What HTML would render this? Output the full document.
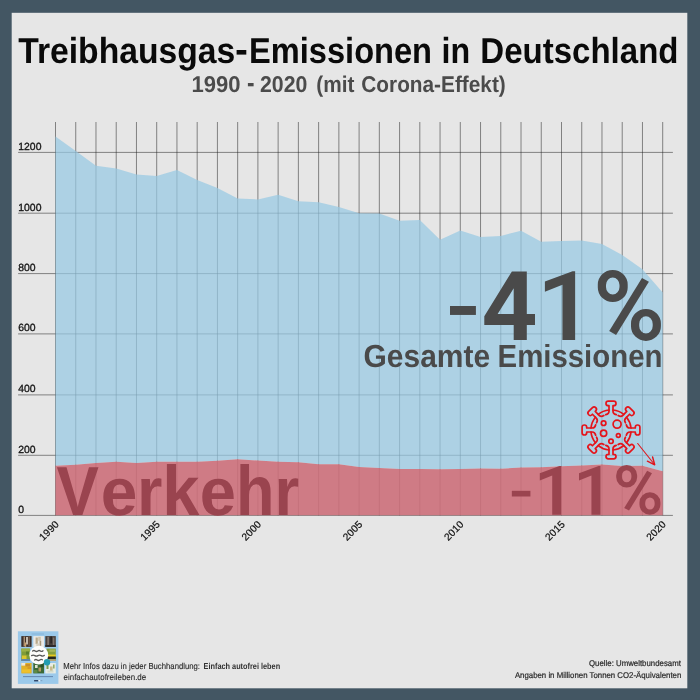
<!DOCTYPE html>
<html lang="de"><head><meta charset="utf-8"><title>Treibhausgas-Emissionen in Deutschland</title>
<style>html,body{margin:0;padding:0;background:#435663;}body{width:700px;height:700px;overflow:hidden;}svg{display:block;will-change:transform;}text{font-family:"Liberation Sans",sans-serif;text-rendering:geometricPrecision;}</style></head><body>
<svg width="700" height="700" viewBox="0 0 700 700">
<rect x="0" y="0" width="700" height="700" fill="#435663"/>
<rect x="11.7" y="12.8" width="675.6" height="675.5" fill="#e6e6e6"/>
<g stroke="#1c1c1c" stroke-width="0.5" fill="none">
<line x1="55.50" y1="122" x2="55.50" y2="515.30"/>
<line x1="75.74" y1="122" x2="75.74" y2="515.30"/>
<line x1="95.98" y1="122" x2="95.98" y2="515.30"/>
<line x1="116.22" y1="122" x2="116.22" y2="515.30"/>
<line x1="136.46" y1="122" x2="136.46" y2="515.30"/>
<line x1="156.70" y1="122" x2="156.70" y2="515.30"/>
<line x1="176.94" y1="122" x2="176.94" y2="515.30"/>
<line x1="197.18" y1="122" x2="197.18" y2="515.30"/>
<line x1="217.42" y1="122" x2="217.42" y2="515.30"/>
<line x1="237.66" y1="122" x2="237.66" y2="515.30"/>
<line x1="257.90" y1="122" x2="257.90" y2="515.30"/>
<line x1="278.14" y1="122" x2="278.14" y2="515.30"/>
<line x1="298.38" y1="122" x2="298.38" y2="515.30"/>
<line x1="318.62" y1="122" x2="318.62" y2="515.30"/>
<line x1="338.86" y1="122" x2="338.86" y2="515.30"/>
<line x1="359.10" y1="122" x2="359.10" y2="515.30"/>
<line x1="379.34" y1="122" x2="379.34" y2="515.30"/>
<line x1="399.58" y1="122" x2="399.58" y2="515.30"/>
<line x1="419.82" y1="122" x2="419.82" y2="515.30"/>
<line x1="440.06" y1="122" x2="440.06" y2="515.30"/>
<line x1="460.30" y1="122" x2="460.30" y2="515.30"/>
<line x1="480.54" y1="122" x2="480.54" y2="515.30"/>
<line x1="500.78" y1="122" x2="500.78" y2="515.30"/>
<line x1="521.02" y1="122" x2="521.02" y2="515.30"/>
<line x1="541.26" y1="122" x2="541.26" y2="515.30"/>
<line x1="561.50" y1="122" x2="561.50" y2="515.30"/>
<line x1="581.74" y1="122" x2="581.74" y2="515.30"/>
<line x1="601.98" y1="122" x2="601.98" y2="515.30"/>
<line x1="622.22" y1="122" x2="622.22" y2="515.30"/>
<line x1="642.46" y1="122" x2="642.46" y2="515.30"/>
<line x1="662.70" y1="122" x2="662.70" y2="515.30"/>
<line x1="18.1" y1="515.40" x2="672.9" y2="515.40"/>
<line x1="18.1" y1="455.30" x2="672.9" y2="455.30"/>
<line x1="18.1" y1="394.90" x2="672.9" y2="394.90"/>
<line x1="18.1" y1="333.90" x2="672.9" y2="333.90"/>
<line x1="18.1" y1="273.60" x2="672.9" y2="273.60"/>
<line x1="18.1" y1="213.20" x2="672.9" y2="213.20"/>
<line x1="18.1" y1="152.40" x2="672.9" y2="152.40"/>
</g>
<polygon points="55.50,136.60 75.74,151.00 95.98,165.80 116.22,168.60 136.46,174.60 156.70,176.00 176.94,169.90 197.18,180.10 217.42,188.10 237.66,198.50 257.90,199.40 278.14,194.80 298.38,201.20 318.62,202.30 338.86,207.00 359.10,213.30 379.34,213.50 399.58,220.70 419.82,220.00 440.06,239.70 460.30,230.40 480.54,237.00 500.78,235.90 521.02,230.80 541.26,241.80 561.50,241.10 581.74,240.50 601.98,244.00 622.22,255.00 642.46,269.20 662.70,292.40 662.70,471.13 642.46,465.69 622.22,465.99 601.98,464.48 581.74,465.39 561.50,466.29 541.26,467.20 521.02,467.50 500.78,468.71 480.54,468.41 460.30,469.02 440.06,469.32 419.82,469.02 399.58,469.02 379.34,468.11 359.10,466.90 338.86,464.18 318.62,464.18 298.38,462.36 278.14,461.76 257.90,460.55 237.66,459.34 217.42,460.85 197.18,461.76 176.94,461.76 156.70,461.76 136.46,462.97 116.22,461.76 95.98,462.97 75.74,464.78 55.50,465.69" fill="#97c9e3" fill-opacity="0.72"/>
<polygon points="55.50,465.69 75.74,464.78 95.98,462.97 116.22,461.76 136.46,462.97 156.70,461.76 176.94,461.76 197.18,461.76 217.42,460.85 237.66,459.34 257.90,460.55 278.14,461.76 298.38,462.36 318.62,464.18 338.86,464.18 359.10,466.90 379.34,468.11 399.58,469.02 419.82,469.02 440.06,469.32 460.30,469.02 480.54,468.41 500.78,468.71 521.02,467.50 541.26,467.20 561.50,466.29 581.74,465.39 601.98,464.48 622.22,465.99 642.46,465.69 662.70,471.13 662.70,515.30 55.50,515.30" fill="#cc6f7a" fill-opacity="0.9"/>
<g font-size="10.4" fill="#161616" stroke="#161616" stroke-width="0.32">
<text transform="translate(18.3,512.70) scale(1,1.0)">0</text>
<text transform="translate(18.3,452.60) scale(1,1.0)">200</text>
<text transform="translate(18.3,392.20) scale(1,1.0)">400</text>
<text transform="translate(18.3,331.20) scale(1,1.0)">600</text>
<text transform="translate(18.3,270.90) scale(1,1.0)">800</text>
<text transform="translate(18.3,210.50) scale(1,1.0)">1000</text>
<text transform="translate(18.3,149.70) scale(1,1.0)">1200</text>
</g>
<g font-size="10.2" fill="#111" stroke="#111" stroke-width="0.2" text-anchor="end">
<text transform="translate(59.40,525.10) rotate(-45)">1990</text>
<text transform="translate(160.60,525.10) rotate(-45)">1995</text>
<text transform="translate(261.80,525.10) rotate(-45)">2000</text>
<text transform="translate(363.00,525.10) rotate(-45)">2005</text>
<text transform="translate(464.20,525.10) rotate(-45)">2010</text>
<text transform="translate(565.40,525.10) rotate(-45)">2015</text>
<text transform="translate(666.60,525.10) rotate(-45)">2020</text>
</g>
<text transform="translate(18.20,63.40) scale(0.3367,0.3614)" font-size="100" font-weight="bold" fill="#0a0a0a">Treibhausgas</text>
<text transform="translate(249.06,63.40) scale(0.3259,0.3614)" font-size="100" font-weight="bold" fill="#0a0a0a">Emissionen</text>
<text transform="translate(441.58,63.40) scale(0.3227,0.3614)" font-size="100" font-weight="bold" fill="#0a0a0a">in</text>
<text transform="translate(480.34,63.40) scale(0.3302,0.3614)" font-size="100" font-weight="bold" fill="#0a0a0a">Deutschland</text>
<rect x="236.6" y="50.0" width="9.7" height="4.6" fill="#0a0a0a"/>
<text transform="translate(191.52,91.70) scale(0.2206,0.2279)" font-size="100" font-weight="bold" fill="#4b4b4b">1990</text>
<text transform="translate(260.04,91.70) scale(0.2127,0.2279)" font-size="100" font-weight="bold" fill="#4b4b4b">2020</text>
<text transform="translate(316.32,91.70) scale(0.2083,0.2279)" font-size="100" font-weight="bold" fill="#4b4b4b">(mit</text>
<text transform="translate(361.35,91.70) scale(0.2079,0.2279)" font-size="100" font-weight="bold" fill="#4b4b4b">Corona-Effekt)</text>
<rect x="247.9" y="83.0" width="5.7" height="3.3" fill="#4b4b4b"/>
<text transform="translate(445.91,329.73) scale(1.0202,0.7538)" font-size="100" font-weight="bold" fill="#4a4a4a">-</text>
<text transform="translate(363.56,367.20) scale(0.2996,0.3193)" font-size="100" font-weight="bold" fill="#4a4a4a">Gesamte</text>
<text transform="translate(497.56,367.20) scale(0.2937,0.3193)" font-size="100" font-weight="bold" fill="#4a4a4a">Emissionen</text>
<text transform="translate(56.50,515.20) scale(0.6355,0.6940)" font-size="100" font-weight="bold" fill="#9a444f">V</text>
<text transform="translate(100.84,514.74) scale(0.6580,0.6756)" font-size="100" font-weight="bold" fill="#9a444f">e</text>
<text transform="translate(136.92,515.20) scale(0.6528,0.6802)" font-size="100" font-weight="bold" fill="#9a444f">r</text>
<text transform="translate(162.32,515.20) scale(0.6680,0.7054)" font-size="100" font-weight="bold" fill="#9a444f">k</text>
<text transform="translate(199.77,514.74) scale(0.6500,0.6756)" font-size="100" font-weight="bold" fill="#9a444f">e</text>
<text transform="translate(235.96,515.20) scale(0.6300,0.7054)" font-size="100" font-weight="bold" fill="#9a444f">h</text>
<text transform="translate(274.54,515.20) scale(0.6336,0.6802)" font-size="100" font-weight="bold" fill="#9a444f">r</text>
<text transform="translate(509.12,505.83) scale(0.7304,0.4764)" font-size="100" font-weight="bold" fill="#9a444f">-</text>
<text transform="translate(63.19,669.20) scale(0.0774,0.0856)" font-size="100" font-weight="normal" fill="#2b2b2b" stroke="#2b2b2b" stroke-width="1.6">Mehr Infos dazu in jeder Buchhandlung:</text>
<text transform="translate(203.54,669.20) scale(0.0733,0.0856)" font-size="100" font-weight="bold" fill="#333">Einfach autofrei leben</text>
<text transform="translate(63.55,680.40) scale(0.0795,0.0856)" font-size="100" font-weight="normal" fill="#2b2b2b" stroke="#2b2b2b" stroke-width="1.6">einfachautofreileben.de</text>
<text transform="translate(589.03,666.30) scale(0.0783,0.0827)" font-size="100" font-weight="normal" fill="#2b2b2b" stroke="#2b2b2b" stroke-width="2.6">Quelle: Umweltbundesamt</text>
<text transform="translate(514.90,678.00) scale(0.0782,0.0842)" font-size="100" font-weight="normal" fill="#2b2b2b" stroke="#2b2b2b" stroke-width="2.6">Angaben in Millionen Tonnen CO2-Äquivalenten</text>
<path fill="#4a4a4a" fill-rule="evenodd" d="M511.9,271.4 L526.8,271.4 L526.8,314.1 L535.0,314.1 L535.0,324.9 L526.8,324.9 L526.8,339.9 L513.7,339.9 L513.7,324.9 L484.3,324.9 L484.3,316.3 Z M513.7,288.3 L513.7,314.1 L497.6,314.1 Z"/>
<polygon fill="#4a4a4a" points="575.13,271.20 575.13,339.90 562.42,339.90 562.42,284.73 544.90,291.81 544.90,281.50 572.59,271.20"/>
<polygon fill="#9a444f" points="561.23,466.00 561.23,514.70 552.22,514.70 552.22,475.59 539.80,480.61 539.80,473.31 559.43,466.00"/>
<polygon fill="#9a444f" points="600.47,465.90 600.47,514.70 591.44,514.70 591.44,475.51 579.00,480.54 579.00,473.22 598.67,465.90"/>
<g transform="translate(597.80,270.00) scale(1.0000,1.0000)" fill="#4a4a4a" fill-rule="evenodd"><path d="M14.95,0.00 h0.00 a14.95,14.60 0 0 1 14.95,14.60 v2.80 a14.95,14.60 0 0 1 -14.95,14.60 h-0.00 a14.95,14.60 0 0 1 -14.95,-14.60 v-2.80 a14.95,14.60 0 0 1 14.95,-14.60 Z M14.95,7.40 h0.00 a6.75,7.60 0 0 1 6.75,7.60 v2.00 a6.75,7.60 0 0 1 -6.75,7.60 h-0.00 a6.75,7.60 0 0 1 -6.75,-7.60 v-2.00 a6.75,7.60 0 0 1 6.75,-7.60 Z"/><path d="M48.15,38.90 h0.00 a14.95,14.60 0 0 1 14.95,14.60 v2.80 a14.95,14.60 0 0 1 -14.95,14.60 h-0.00 a14.95,14.60 0 0 1 -14.95,-14.60 v-2.80 a14.95,14.60 0 0 1 14.95,-14.60 Z M48.15,46.30 h0.00 a6.75,7.60 0 0 1 6.75,7.60 v2.00 a6.75,7.60 0 0 1 -6.75,7.60 h-0.00 a6.75,7.60 0 0 1 -6.75,-7.60 v-2.00 a6.75,7.60 0 0 1 6.75,-7.60 Z"/><polygon points="44.2,8 51.1,11.7 18.3,64.9 11.4,61.1"/></g>
<g transform="translate(616.20,465.10) scale(0.7005,0.7010)" fill="#9a444f" fill-rule="evenodd"><path d="M14.95,0.00 h0.00 a14.95,14.60 0 0 1 14.95,14.60 v2.80 a14.95,14.60 0 0 1 -14.95,14.60 h-0.00 a14.95,14.60 0 0 1 -14.95,-14.60 v-2.80 a14.95,14.60 0 0 1 14.95,-14.60 Z M14.95,7.40 h0.00 a6.75,7.60 0 0 1 6.75,7.60 v2.00 a6.75,7.60 0 0 1 -6.75,7.60 h-0.00 a6.75,7.60 0 0 1 -6.75,-7.60 v-2.00 a6.75,7.60 0 0 1 6.75,-7.60 Z"/><path d="M48.15,38.90 h0.00 a14.95,14.60 0 0 1 14.95,14.60 v2.80 a14.95,14.60 0 0 1 -14.95,14.60 h-0.00 a14.95,14.60 0 0 1 -14.95,-14.60 v-2.80 a14.95,14.60 0 0 1 14.95,-14.60 Z M48.15,46.30 h0.00 a6.75,7.60 0 0 1 6.75,7.60 v2.00 a6.75,7.60 0 0 1 -6.75,7.60 h-0.00 a6.75,7.60 0 0 1 -6.75,-7.60 v-2.00 a6.75,7.60 0 0 1 6.75,-7.60 Z"/><polygon points="44.2,8 51.1,11.7 18.3,64.9 11.4,61.1"/></g>
<g><rect x="17.9" y="631.3" width="40.5" height="52.6" fill="#9bc9ea"/><rect x="31.6" y="633.6" width="12.4" height="0.8" fill="#7da9cc" opacity="0.8"/><rect x="21.30" y="636.10" width="10.30" height="10.80" fill="#3e302a"/><rect x="23.60" y="636.60" width="1.30" height="9.80" fill="#b99c7c"/><rect x="26.20" y="637.00" width="1.60" height="7.50" fill="#e6dccd"/><rect x="28.60" y="636.40" width="1.00" height="10.00" fill="#8d6f55"/><rect x="24.90" y="642.50" width="1.30" height="4.40" fill="#c9a06a"/><rect x="33.30" y="636.10" width="10.70" height="10.80" fill="#ebe9e4"/><rect x="35.60" y="637.50" width="2.20" height="6.50" fill="#b9a98a"/><rect x="38.20" y="636.80" width="2.60" height="4.00" fill="#cfc5ae"/><rect x="39.60" y="640.80" width="1.60" height="5.00" fill="#a89a7e"/><rect x="36.30" y="643.50" width="3.00" height="3.00" fill="#d8d2c2"/><rect x="45.30" y="636.10" width="10.50" height="10.80" fill="#47403d"/><rect x="47.40" y="636.80" width="1.40" height="8.60" fill="#8e8076"/><rect x="50.30" y="636.40" width="1.70" height="7.00" fill="#2a2624"/><rect x="52.80" y="637.50" width="1.60" height="8.50" fill="#7d7168"/><rect x="45.30" y="645.00" width="10.50" height="1.90" fill="#2e2a29"/><rect x="21.30" y="648.60" width="8.60" height="12.40" fill="#7f9c36"/><rect x="21.30" y="648.60" width="8.60" height="3.00" fill="#9bb046"/><rect x="22.00" y="655.50" width="4.50" height="3.50" fill="#dcc62e"/><rect x="21.30" y="659.00" width="8.60" height="2.00" fill="#5f86a8"/><rect x="26.00" y="651.50" width="3.00" height="3.00" fill="#5c7f2a"/><rect x="46.60" y="648.60" width="9.20" height="12.40" fill="#86a03e"/><rect x="46.60" y="654.60" width="9.20" height="2.00" fill="#e8ca20"/><rect x="46.60" y="656.60" width="9.20" height="2.60" fill="#26261f"/><rect x="46.60" y="659.20" width="9.20" height="1.80" fill="#b7a67c"/><rect x="49.50" y="649.40" width="5.50" height="2.40" fill="#a5b85a"/><rect x="21.30" y="663.00" width="10.30" height="10.40" fill="#e2b227"/><rect x="21.30" y="663.00" width="4.00" height="2.60" fill="#efe9dc"/><rect x="25.50" y="664.00" width="4.50" height="2.50" fill="#c98f2a"/><rect x="22.00" y="669.50" width="8.50" height="3.00" fill="#edc12c"/><rect x="27.50" y="666.80" width="3.50" height="2.20" fill="#d69b22"/><rect x="33.30" y="663.00" width="10.70" height="10.40" fill="#3c6a35"/><rect x="35.00" y="665.00" width="2.60" height="3.00" fill="#dfe3d2"/><rect x="38.50" y="667.50" width="2.50" height="4.00" fill="#b59a63"/><rect x="40.50" y="663.60" width="3.00" height="3.60" fill="#2a4f27"/><rect x="34.00" y="670.00" width="3.50" height="3.00" fill="#5f8a44"/><rect x="45.30" y="663.00" width="10.50" height="10.40" fill="#e8ede5"/><rect x="46.50" y="664.00" width="2.00" height="5.00" fill="#7d9c52"/><rect x="50.00" y="666.50" width="2.60" height="5.50" fill="#c9b98c"/><rect x="53.00" y="664.50" width="1.60" height="4.00" fill="#94ad6c"/><rect x="47.50" y="670.50" width="6.00" height="2.00" fill="#d3dccb"/><circle cx="38.8" cy="655.2" r="9.4" fill="#fdfdfb"/><g fill="none" stroke="#2f2f2f" stroke-width="1.25" stroke-linecap="round" opacity="0.8"><path d="M32.6,651.0 q1.3,-1.0 2.6,0 t2.6,0 t2.6,0 t2.6,-0.3"/><path d="M31.6,655.6 q1.6,-1.0 3.2,0 t3.2,0 t3.2,0 t3.2,-0.3"/><path d="M34.6,660.0 q1.3,-1.0 2.6,0 t2.6,0 t2.6,-0.2"/></g><circle cx="47.0" cy="662.2" r="3.2" fill="#229db2"/><rect x="23.0" y="676.2" width="30" height="0.9" fill="#35507e" opacity="0.6"/><rect x="34.1" y="680.1" width="4.3" height="1.3" fill="#263a5c"/><rect x="38.4" y="680.1" width="1.8" height="1.3" fill="#f4f4f4"/><rect x="40.5" y="680.4" width="1.8" height="0.7" fill="#6f8fb0"/></g>
<g transform="translate(611.00,430.00)" fill="none" stroke="#e5131a" stroke-width="1.70" stroke-linecap="round" stroke-linejoin="round"><path d="M2.00,-20.00 A20.10,20.10 0 0 1 12.73,-15.56"/><path d="M15.56,-12.73 A20.10,20.10 0 0 1 20.00,-2.00"/><path d="M20.00,2.00 A20.10,20.10 0 0 1 15.56,12.73"/><path d="M12.73,15.56 A20.10,20.10 0 0 1 2.00,20.00"/><path d="M-2.00,20.00 A20.10,20.10 0 0 1 -12.73,15.56"/><path d="M-15.56,12.73 A20.10,20.10 0 0 1 -20.00,2.00"/><path d="M-20.00,-2.00 A20.10,20.10 0 0 1 -15.56,-12.73"/><path d="M-12.73,-15.56 A20.10,20.10 0 0 1 -2.00,-20.00"/><g transform="rotate(0)"><path d="M-5.2,-15.3 Q-2.0,-16.0 -2.0,-18.8 L-2.0,-24.3 L-2.7,-24.3 A2.3,2.3 0 0 1 -2.7,-28.9 L2.7,-28.9 A2.3,2.3 0 0 1 2.7,-24.3 L2.0,-24.3 L2.0,-18.8 Q2.0,-16.0 5.2,-15.3"/></g><g transform="rotate(45)"><path d="M-5.2,-15.3 Q-2.0,-16.0 -2.0,-18.8 L-2.0,-24.3 L-2.7,-24.3 A2.3,2.3 0 0 1 -2.7,-28.9 L2.7,-28.9 A2.3,2.3 0 0 1 2.7,-24.3 L2.0,-24.3 L2.0,-18.8 Q2.0,-16.0 5.2,-15.3"/></g><g transform="rotate(90)"><path d="M-5.2,-15.3 Q-2.0,-16.0 -2.0,-18.8 L-2.0,-24.3 L-2.7,-24.3 A2.3,2.3 0 0 1 -2.7,-28.9 L2.7,-28.9 A2.3,2.3 0 0 1 2.7,-24.3 L2.0,-24.3 L2.0,-18.8 Q2.0,-16.0 5.2,-15.3"/></g><g transform="rotate(135)"><path d="M-5.2,-15.3 Q-2.0,-16.0 -2.0,-18.8 L-2.0,-24.3 L-2.7,-24.3 A2.3,2.3 0 0 1 -2.7,-28.9 L2.7,-28.9 A2.3,2.3 0 0 1 2.7,-24.3 L2.0,-24.3 L2.0,-18.8 Q2.0,-16.0 5.2,-15.3"/></g><g transform="rotate(180)"><path d="M-5.2,-15.3 Q-2.0,-16.0 -2.0,-18.8 L-2.0,-24.3 L-2.7,-24.3 A2.3,2.3 0 0 1 -2.7,-28.9 L2.7,-28.9 A2.3,2.3 0 0 1 2.7,-24.3 L2.0,-24.3 L2.0,-18.8 Q2.0,-16.0 5.2,-15.3"/></g><g transform="rotate(225)"><path d="M-5.2,-15.3 Q-2.0,-16.0 -2.0,-18.8 L-2.0,-24.3 L-2.7,-24.3 A2.3,2.3 0 0 1 -2.7,-28.9 L2.7,-28.9 A2.3,2.3 0 0 1 2.7,-24.3 L2.0,-24.3 L2.0,-18.8 Q2.0,-16.0 5.2,-15.3"/></g><g transform="rotate(270)"><path d="M-5.2,-15.3 Q-2.0,-16.0 -2.0,-18.8 L-2.0,-24.3 L-2.7,-24.3 A2.3,2.3 0 0 1 -2.7,-28.9 L2.7,-28.9 A2.3,2.3 0 0 1 2.7,-24.3 L2.0,-24.3 L2.0,-18.8 Q2.0,-16.0 5.2,-15.3"/></g><g transform="rotate(315)"><path d="M-5.2,-15.3 Q-2.0,-16.0 -2.0,-18.8 L-2.0,-24.3 L-2.7,-24.3 A2.3,2.3 0 0 1 -2.7,-28.9 L2.7,-28.9 A2.3,2.3 0 0 1 2.7,-24.3 L2.0,-24.3 L2.0,-18.8 Q2.0,-16.0 5.2,-15.3"/></g><circle cx="-7.40" cy="-6.80" r="2.30"/><circle cx="6.10" cy="-5.80" r="4.00"/><circle cx="-7.40" cy="3.30" r="3.10"/><circle cx="7.30" cy="5.50" r="1.90"/><circle cx="0.00" cy="11.30" r="2.20"/></g>
<g fill="none" stroke="#e0151c" stroke-width="1.1" stroke-linecap="round" stroke-linejoin="round"><path d="M637.7,443.5 L654.5,464.5"/><path d="M647.4,461.2 L654.7,464.8 L652.6,457.0" stroke-width="1.4"/></g>
</svg></body></html>
